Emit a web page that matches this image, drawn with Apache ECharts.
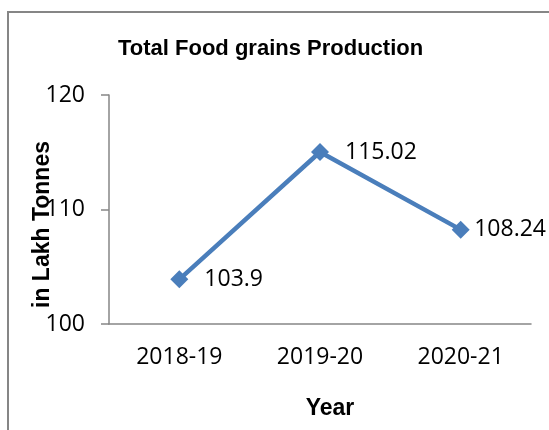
<!DOCTYPE html>
<html>
<head>
<meta charset="utf-8">
<script src="https://cdn.jsdelivr.net/npm/echarts@6/dist/echarts.min.js"></script>
<style>
  html, body { margin: 0; padding: 0; background: #fff; }
  #chart { width: 549px; height: 430px; }
</style>
</head>
<body>
<div id="chart"></div>
<script>
// chart data
let years = ['2018-19', '2019-20', '2020-21'];
let production = [103.9, 115.02, 108.24];

let axisGray = '#868686';
let lineBlue = '#4a7ebb';

let chart = echarts.init(document.getElementById('chart'));
chart.setOption({
    animation: false,
    title: {
        text: 'Total Food grains Production',
        left: 113,
        top: 33,
        textStyle: {
            fontFamily: 'Liberation Sans',
            fontWeight: 'bold',
            fontSize: 22,
            color: '#000'
        }
    },
    graphic: [{
        type: 'rect',
        shape: { x: 8, y: 12, width: 600, height: 500 },
        style: { fill: 'none', stroke: axisGray, lineWidth: 2 },
        silent: true
    }],
    grid: {
        left: 109,
        right: 18,
        top: 95,
        bottom: 106
    },
    xAxis: {
        type: 'category',
        data: years,
        boundaryGap: true,
        name: 'Year',
        nameLocation: 'middle',
        nameGap: 73,
        nameMoveOverlap: false,
        nameTextStyle: {
            fontFamily: 'Liberation Sans',
            fontWeight: 'bold',
            fontSize: 23,
            color: '#000',
            padding: [0, 0, 0, 20]
        },
        axisLine: { lineStyle: { color: axisGray, width: 1.5 } },
        axisTick: { length: 8, lineStyle: { color: axisGray, width: 1.5 } },
        axisLabel: {
            margin: 22,
            fontFamily: 'Open Sans',
            fontSize: 23,
            color: '#000'
        },
        splitLine: { show: false }
    },
    yAxis: {
        type: 'value',
        min: 100,
        max: 120,
        interval: 10,
        name: 'in Lakh Tonnes',
        nameLocation: 'middle',
        nameGap: 55,
        nameMoveOverlap: false,
        nameTextStyle: {
            fontFamily: 'Liberation Sans',
            fontWeight: 'bold',
            fontSize: 23,
            color: '#000',
            padding: [0, 30, 0, 0]
        },
        axisLine: { show: true, lineStyle: { color: axisGray, width: 1.5 } },
        axisTick: { show: true, length: 8, lineStyle: { color: axisGray, width: 1.5 } },
        axisLabel: {
            margin: 24,
            fontFamily: 'Open Sans',
            fontSize: 23,
            color: '#000'
        },
        splitLine: { show: false }
    },
    series: [{
        type: 'line',
        data: production,
        symbol: 'diamond',
        symbolSize: 18,
        lineStyle: { color: lineBlue, width: 4.5 },
        itemStyle: { color: lineBlue },
        label: {
            show: true,
            position: 'right',
            distance: 16,
            fontFamily: 'Open Sans',
            fontSize: 23,
            color: '#000'
        },
        // keep labels inside the chart box, like the original
        labelLayout: function(params) {
            let r = params.labelRect;
            return {
                x: Math.min(r.x, 546 - r.width),
                y: r.y,
                align: 'left',
                verticalAlign: 'top'
            };
        }
    }]
});
</script>
</body>
</html>
